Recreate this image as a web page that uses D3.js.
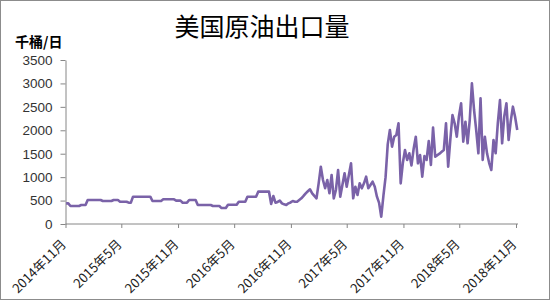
<!DOCTYPE html>
<html><head><meta charset="utf-8">
<script src="https://cdn.jsdelivr.net/npm/d3@7"></script>
<style>
html,body{margin:0;padding:0;background:#fff;}
svg{display:block;}
</style>
</head><body>
<svg id="c" width="550" height="300"></svg>
<script>
const title = "美国原油出口量";
const unitLabel = "千桶/日";
const startWeek = "2014-11-03";
const tickDates = ["2014-11","2015-05","2015-11","2016-05","2016-11","2017-05","2017-11","2018-05","2018-11"];
const yTicks = [0,500,1000,1500,2000,2500,3000,3500];
const exportsWeekly = [
441,441,
384,384,384,384,384,
405,405,405,
512,512,512,512,512,512,512,
491,491,491,491,491,
512,512,512,
476,476,476,476,
455,455,
583,583,583,583,583,583,583,583,583,
491,491,491,491,491,
527,527,527,527,527,527,
498,498,498,
455,455,455,
512,512,512,512,
405,405,405,405,405,405,405,
384,384,384,384,
340,340,340,
410,410,410,410,410,
476,476,476,476,
583,583,583,583,583,
690,690,690,690,690,690,
427,598,455,470,498,441,420,405,441,460,491,476,476,512,548,600,655,700,740,655,600,548,
868,1223,939,762,939,655,1046,548,726,1152,583,832,1082,796,1046,1295,548,796,619,868,762,868,1010,762,832,903,796,583,
450,156,
600,1000,1700,2006,1650,1863,1900,2149,868,1300,
1579,1366,1509,1250,1600,1863,1295,1470,1010,1450,
1366,1770,1259,2060,1437,1470,1500,1540,1580,2149,
1223,1800,2326,2149,1863,2300,2576,1757,2183,1722,
2219,3003,2433,2000,1509,2683,1366,1863,1509,1300,
1152,1792,1509,2149,2646,1722,2300,2576,1792,2200,
2504,2290,2006
];

const svg = d3.select("#c");
const parseDay = d3.timeParse("%Y-%m-%d");
const parseMonth = d3.timeParse("%Y-%m");
const t0 = parseDay(startWeek);
const dates = exportsWeekly.map((v,i)=>d3.timeDay.offset(t0, 7*i));
const data = exportsWeekly.map((v,i)=>({date:dates[i], value:v}));
const ticks = tickDates.map(parseMonth);

const x = d3.scaleTime().domain([ticks[0], ticks[ticks.length-1]]).range([65.5, 516]);
const y = d3.scaleLinear().domain([0,3500]).range([224,60]);

// border
svg.append("rect").attr("x",0.5).attr("y",0.5).attr("width",549).attr("height",299)
  .attr("fill","#fff").attr("stroke","#8c8c8c").attr("stroke-width",1);

svg.append("text").attr("x",262).attr("y",36).attr("text-anchor","middle")
  .attr("font-family","'Noto Sans CJK SC'").attr("font-size",25).attr("fill","#000").text(title);
svg.append("text").attr("x",15).attr("y",47)
  .attr("font-family","'Noto Sans CJK SC'").attr("font-weight","bold").attr("font-size",14).attr("fill","#000").text(unitLabel);

const axisColor = "#868686";
const yAxis = svg.append("g").attr("transform","translate(65.5,0)")
  .call(d3.axisLeft(y).tickValues(yTicks).tickSize(5).tickSizeOuter(0).tickPadding(8).tickFormat(d3.format("d")));
yAxis.selectAll("path,line").attr("stroke",axisColor);
yAxis.selectAll("text").attr("font-family","'Liberation Sans', Arial, sans-serif").attr("font-size",13.5).attr("fill","#333");

const xEnd = Math.max(x(dates[dates.length-1]), 518);
const xAxis = svg.append("g").attr("transform","translate(0,224)")
  .call(d3.axisBottom(x).tickValues(ticks).tickSize(4).tickSizeOuter(0).tickFormat(d3.timeFormat("%Y年%-m月")));
xAxis.select("path").attr("d",`M65.5,0H${xEnd}`).attr("stroke",axisColor);
xAxis.selectAll("line").attr("stroke",axisColor);
xAxis.selectAll("text")
  .attr("font-family","'Noto Sans CJK SC'").attr("font-size",13).attr("fill","#222")
  .attr("text-anchor","end").attr("y",0).attr("dy",0)
  .attr("transform","translate(1,21) rotate(-45)");

const line = d3.line().x(d=>x(d.date)).y(d=>y(d.value));
svg.append("path").datum(data).attr("d",line).attr("fill","none")
  .attr("stroke","#7a62a8").attr("stroke-width",2.6).attr("stroke-linejoin","round");
</script>
</body></html>
